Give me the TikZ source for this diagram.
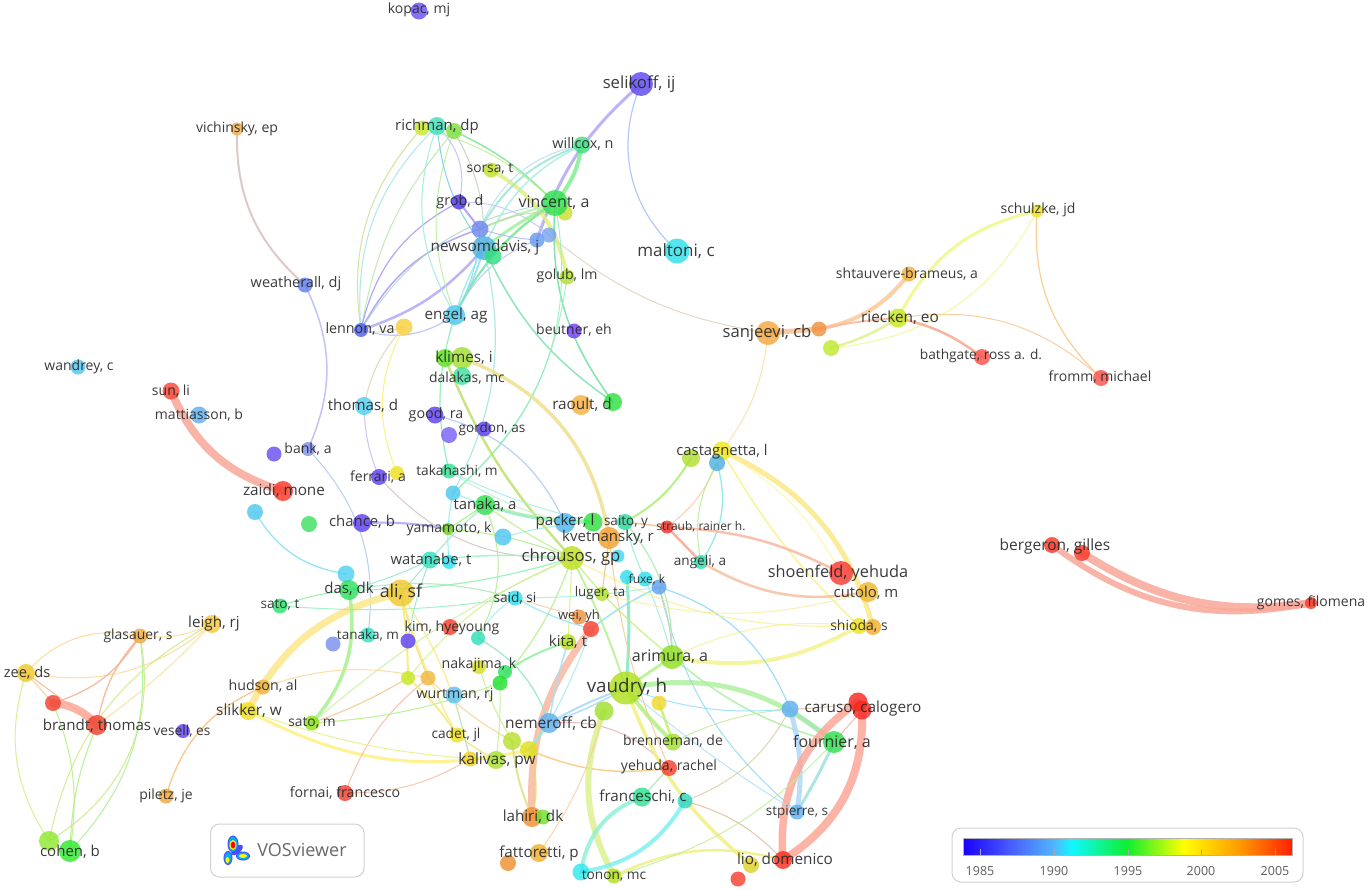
\documentclass[tikz,border=0pt]{standalone}
\usepackage{fontspec}
\setmainfont{Open Sans}
\usetikzlibrary{backgrounds}
\pgfdeclarelayer{bgl}\pgfdeclarelayer{fgl}\pgfsetlayers{bgl,main,fgl}
\definecolor{vA}{HTML}{1A00FF}\definecolor{vB}{HTML}{4A60FF}\definecolor{vC}{HTML}{50B8FF}
\definecolor{vD}{HTML}{10F8FF}\definecolor{vE}{HTML}{10EE30}\definecolor{vF}{HTML}{FFFF00}
\definecolor{vG}{HTML}{FF9A00}\definecolor{vH}{HTML}{FF2000}
\pgfdeclarehorizontalshading{vosbar}{100bp}{color(0bp)=(vA);color(25bp)=(vA);color(32.5bp)=(vB);color(39bp)=(vC);color(41.5bp)=(vD);color(50bp)=(vE);color(58.5bp)=(vF);color(67bp)=(vG);color(75bp)=(vH);color(100bp)=(vH)}
\tikzset{
 auth/.style={circle,inner sep=0pt,outer sep=0pt,draw=none,fill opacity=.82},
 lnk/.style={line cap=round,draw opacity=.85},
 lbl/.style={inner sep=0pt,text=black!85,text opacity=.9},
 panel/.style={draw=black!18,line width=1pt,rounded corners=9pt,fill=white},
}
\newcommand{\au}[5]{\definecolor{nc}{HTML}{#5}\node[auth,minimum size=#4pt,fill=nc] (#1) at (#2,#3) {};}
\newcommand{\lb}[5]{\node[lbl] (l#1) at (#2,#3) {\fontsize{#4}{#4}\selectfont #5};}
\newcommand{\ed}[5]{\definecolor{ec}{HTML}{#1}\draw[lnk,draw=ec,line width=#2pt] (#3.center) to[bend left=#5] (#4.center);}
\begin{document}
\begin{tikzpicture}[x=1pt,y=-1pt]
\useasboundingbox (0,0) rectangle (1367,889);
% ---------- nodes
\au{kopac}{419}{11}{17}{6A50F8}
\au{selikoff}{641}{84}{24}{6048F0}
\au{vich}{237}{129}{13}{F4B050}
\au{rA}{422}{128}{15}{C8E830}
\au{rB}{437}{126}{18}{40E0B8}
\au{rC}{454}{131}{16}{80E040}
\au{willcox}{582}{145}{17}{40E080}
\au{sorsa}{491}{170}{15}{C0E030}
\au{vinB}{565}{213}{15}{C8E030}
\au{vincent}{555}{203}{26}{30E050}
\au{grob}{459}{202}{15}{5038F0}
\au{pA}{480}{229}{17}{7088F0}
\au{newsom}{484}{248}{24}{50B0E0}
\au{nG}{493}{256}{17}{30E080}
\au{bA}{537}{240}{15}{6A9AF0}
\au{bB}{549}{235}{15}{7AA4F0}
\au{golub}{567}{277}{15}{B0E030}
\au{maltoni}{677}{251}{25}{30E0E8}
\au{engel}{455}{315}{20}{50C8F0}
\au{lennon}{361}{330}{14}{5060F0}
\au{yA}{404}{327}{17}{F8D040}
\au{beutner}{574}{331}{15}{7040F0}
\au{weath}{305}{285}{15}{6080F0}
\au{sanjeevi}{768}{333}{24}{F4A840}
\au{shtau}{909}{274}{15}{F4B040}
\au{oA}{819}{329}{15}{F09040}
\au{lA}{831}{348}{16}{C0E830}
\au{riecken}{898}{318}{19}{C8E820}
\au{schulzke}{1037}{211}{13}{F0E020}
\au{bathgate}{982}{357}{16}{F85048}
\au{fromm}{1101}{378}{16}{F85048}
\au{klA}{445}{358}{18}{60E020}
\au{klB}{462}{358}{22}{A0E030}
\au{dalakas}{462}{376}{18}{40E0A0}
\au{raoult}{581}{405}{20}{F8B040}
\au{gA}{613}{402}{18}{30E040}
\au{sunli}{171}{391}{17}{F84838}
\au{matt}{199}{415}{17}{60B0F0}
\au{wandrey}{78}{367}{15}{50C8F0}
\au{thomas}{364}{406}{18}{50D0F0}
\au{good}{435}{415}{17}{6040F0}
\au{pB}{449}{435}{16}{7A60F8}
\au{gordon}{484}{429}{15}{6040F0}
\au{bank}{308}{449}{14}{8090F0}
\au{pC}{274}{454}{15}{6A50F0}
\au{ferrari}{379}{477}{16}{6040F0}
\au{yB}{397}{473}{14}{F0E020}
\au{takah}{449}{471}{15}{30E090}
\au{cA}{453}{493}{15}{50C8F0}
\au{tanakaA}{485}{505}{20}{30E050}
\au{zaidi}{283}{491}{20}{F83828}
\au{cB}{255}{512}{16}{50C8F0}
\au{gB}{309}{524}{16}{40E060}
\au{chance}{362}{523}{18}{6040F0}
\au{yamamoto}{448}{529}{12}{70D020}
\au{cC}{503}{537}{17}{50C8F0}
\au{packer}{565}{523}{20}{50B8F0}
\au{gC}{593}{522}{19}{30E040}
\au{saito}{625}{522}{16}{30D8A0}
\au{kvet}{609}{538}{22}{F0A030}
\au{cD}{618}{556}{13}{40D8F0}
\au{chrousos}{572}{558}{24}{C0E020}
\au{watanabe}{430}{560}{17}{30E0C0}
\au{cE}{449}{562}{14}{30E0F0}
\au{cF}{346}{574}{17}{50D0F0}
\au{das}{349}{590}{20}{30E060}
\au{ali}{401}{593}{27}{F0C830}
\au{satot}{280}{606}{15}{30E070}
\au{said}{515}{598}{15}{30E0F0}
\au{castB}{691}{458}{18}{B0E030}
\au{castA}{722}{451}{19}{F0E820}
\au{castC}{717}{463}{16}{50B0E0}
\au{straub}{667}{527}{13}{F03028}
\au{angeli}{701}{562}{14}{30E0B0}
\au{shoenfeld}{841}{573}{24}{F83830}
\au{cutolo}{868}{592}{20}{F0B830}
\au{shiA}{859}{626}{16}{F0E020}
\au{shiB}{873}{627}{16}{F0B030}
\au{fuA}{627}{577}{14}{30E0F0}
\au{fuB}{645}{579}{15}{30E0F0}
\au{fuC}{659}{587}{15}{60A0F0}
\au{luger}{602}{594}{14}{B0E030}
\au{wei}{579}{617}{15}{F09040}
\au{weiB}{591}{629}{16}{F84030}
\au{kita}{568}{642}{16}{B8E020}
\au{kim}{408}{641}{15}{6040F0}
\au{hye}{450}{627}{16}{F84030}
\au{tanakaM}{368}{635}{15}{30E0C0}
\au{pD}{333}{644}{15}{7A90F0}
\au{tA}{478}{638}{14}{30E0B8}
\au{nak}{479}{667}{14}{D8E020}
\au{nakB}{505}{672}{14}{30E060}
\au{nakC}{500}{683}{15}{20E030}
\au{yC}{408}{678}{14}{C8E820}
\au{oB}{428}{678}{15}{F0B840}
\au{wurtman}{454}{695}{17}{60C0F0}
\au{hudson}{263}{687}{15}{F0B040}
\au{leigh}{212}{624}{18}{F8C840}
\au{glasauer}{140}{636}{15}{F0A840}
\au{zee}{26}{673}{18}{F0C830}
\au{rD}{53}{703}{16}{F04030}
\au{brandt}{97}{725}{20}{F04030}
\au{vesell}{183}{731}{14}{6040F0}
\au{slikker}{248}{711}{18}{F0E020}
\au{satom}{312}{723}{15}{90E020}
\au{piletz}{166}{796}{15}{F0A840}
\au{fornai}{345}{793}{16}{F04030}
\au{coA}{49}{841}{20}{90E830}
\au{cohen}{70}{851}{22}{30E830}
\au{cadet}{457}{735}{15}{F0E020}
\au{kalA}{470}{759}{15}{F0D020}
\au{kalivas}{496}{760}{18}{A8E030}
\au{nemeroff}{549}{723}{20}{60B0F0}
\au{yD}{512}{741}{18}{B8E030}
\au{yE}{529}{750}{18}{E0E020}
\au{vaudry}{626}{688}{33}{B0E020}
\au{lB}{604}{711}{19}{A0E030}
\au{yF}{659}{703}{15}{F0D830}
\au{arimura}{672}{657}{24}{90E020}
\au{brenneman}{673}{742}{17}{A0E030}
\au{yehuda}{669}{768}{16}{F84030}
\au{franc}{642}{797}{19}{30E090}
\au{frB}{685}{801}{15}{30D8C0}
\au{lahiri}{532}{817}{20}{F09030}
\au{laB}{543}{817}{15}{70E030}
\au{fatt}{539}{853}{18}{F0B030}
\au{faB}{508}{863}{16}{F09030}
\au{toA}{581}{872}{17}{30E8F0}
\au{tonon}{614}{876}{15}{B0E020}
\au{lio}{783}{860}{18}{F83020}
\au{lioB}{751}{865}{16}{E0D030}
\au{rE}{738}{879}{15}{F84030}
\au{stpierre}{797}{812}{15}{60B0F0}
\au{fournier}{834}{742}{22}{30E050}
\au{caA}{858}{702}{19}{F82820}
\au{caruso}{862}{710}{19}{F82820}
\au{blC}{790}{709}{17}{60B0F0}
\au{berA}{1052}{545}{16}{F83828}
\au{berB}{1082}{553}{16}{F83828}
\au{gomes}{1311}{603}{12}{F83828}
% ---------- connectors
\begin{pgfonlayer}{bgl}
\fill[white] (0,0) rectangle (1367,889);
\ed{B0A8F8}{3}{selikoff}{bA}{-15}
\ed{A8C0F4}{1.2}{selikoff}{maltoni}{-35}
\ed{C8E090}{1}{lennon}{rA}{25}
\ed{A0E4E8}{1}{lennon}{rB}{25}
\ed{B8E4A8}{1}{lennon}{rC}{15}
\ed{A898F8}{1.2}{lennon}{grob}{25}
\ed{A898F8}{1.5}{lennon}{pA}{22}
\ed{B0A8F8}{2.5}{lennon}{newsom}{-15}
\ed{B8C0F8}{1.2}{lennon}{engel}{-25}
\ed{A8D8C8}{1}{lennon}{vincent}{25}
\ed{E8D8A0}{1}{lennon}{yA}{-15}
\ed{B8C0F8}{1}{engel}{bA}{20}
\ed{98EAE4}{1}{engel}{rB}{25}
\ed{B8EE98}{1}{engel}{rC}{20}
\ed{70CCE8}{1}{newsom}{rB}{15}
\ed{B8D4B8}{1}{newsom}{rC}{-15}
\ed{B8BCF8}{1}{grob}{rB}{-30}
\ed{A898F8}{2}{grob}{pA}{0}
\ed{C0C4F8}{1}{grob}{bB}{20}
\ed{80E490}{1.5}{rC}{vincent}{10}
\ed{C0F090}{1}{rA}{vincent}{14}
\ed{E0F080}{4}{sorsa}{golub}{25}
\ed{80F090}{4}{willcox}{vincent}{15}
\ed{98E8D0}{2}{willcox}{pA}{-20}
\ed{A8ECE0}{1.5}{willcox}{newsom}{-20}
\ed{B8DCF0}{1}{willcox}{pA}{-28}
\ed{A0F0A0}{3}{vincent}{newsom}{-5}
\ed{B0F0B0}{2}{vincent}{pA}{-3}
\ed{80EE90}{2.5}{vincent}{nG}{-8}
\ed{90E8A0}{1.5}{vincent}{engel}{-15}
\ed{B0B8F8}{1}{pA}{bA}{-6}
\ed{C0D8A0}{1}{pA}{vinB}{15}
\ed{90E0E8}{2}{newsom}{engel}{6}
\ed{A0E8F0}{1.5}{newsom}{engel}{-6}
\ed{80E8B0}{2}{nG}{engel}{-6}
\ed{80D8F0}{1}{pA}{engel}{12}
\ed{80E0B0}{1.5}{newsom}{gA}{-15}
\ed{70E0A0}{1.5}{vincent}{gA}{-20}
\ed{98F0C0}{1}{vincent}{cA}{30}
\ed{90F0B8}{1}{golub}{cA}{20}
\ed{80EEB0}{1.2}{engel}{takah}{-15}
\ed{A0E8E0}{1.2}{newsom}{cA}{20}
\ed{EEE090}{3.5}{klB}{kvet}{30}
\ed{C0E070}{2.5}{klA}{chrousos}{-10}
\ed{B0C8F8}{1.2}{good}{packer}{25}
\ed{E0D0B0}{1}{yA}{thomas}{-15}
\ed{C8B8F0}{1}{thomas}{ferrari}{-10}
\ed{D0C0C0}{1}{ferrari}{chrousos}{-25}
\ed{F8F070}{1}{yA}{yB}{-25}
\ed{B8B8F8}{1.5}{weath}{bank}{25}
\ed{D8C0C0}{2}{vich}{weath}{-25}
\ed{A8C8F0}{1}{bank}{tanakaM}{25}
\ed{80E0F8}{1.3}{cB}{cF}{-25}
\ed{F8A898}{8}{sunli}{zaidi}{-25}
\ed{B0A8F0}{2.2}{chance}{yamamoto}{6}
\ed{90E8D0}{1}{das}{watanabe}{-5}
\ed{80F0A0}{1}{satot}{das}{6}
\ed{FCE88C}{7}{ali}{slikker}{-25}
\ed{A8F090}{3.5}{das}{satom}{25}
\ed{90E8D0}{1}{ali}{watanabe}{0}
\ed{B0E8C0}{1.2}{das}{said}{12}
\ed{90F0C0}{1}{satot}{said}{-6}
\ed{F8E870}{2}{ali}{yC}{4}
\ed{F8E070}{1.5}{ali}{oB}{-4}
\ed{F8EC80}{1.5}{ali}{cadet}{-6}
\ed{F8E880}{1.2}{ali}{kalA}{10}
\ed{FFF080}{3}{slikker}{yE}{-20}
\ed{F8C078}{1.3}{piletz}{hudson}{25}
\ed{FDD890}{1}{hudson}{oB}{15}
\ed{F8B8A0}{1}{fornai}{oB}{15}
\ed{F8C0A0}{1}{fornai}{kalA}{-15}
\ed{F8D090}{1}{oB}{yE}{-8}
\ed{F8C880}{1.5}{yE}{yehuda}{-15}
\ed{E8B0B0}{1}{nemeroff}{yehuda}{25}
\ed{F8B8A0}{7}{weiB}{lahiri}{-20}
\ed{F0D080}{2}{yE}{lahiri}{15}
\ed{E0E080}{2}{yD}{lahiri}{-8}
\ed{A0E8D0}{3}{nemeroff}{yE}{0}
\ed{DCF090}{6}{lB}{tonon}{-25}
\ed{F0F080}{3.5}{vaudry}{lioB}{-15}
\ed{B0F080}{4}{vaudry}{brenneman}{-5}
\ed{C8F060}{2.5}{yF}{brenneman}{0}
\ed{B0F0A0}{5}{vaudry}{fournier}{25}
\ed{F4F490}{4}{arimura}{shiA}{-20}
\ed{A8F0A0}{1.5}{arimura}{fournier}{-12}
\ed{B8F090}{3}{vaudry}{arimura}{0}
\ed{FCE888}{5}{castA}{shiB}{25}
\ed{F8F070}{1.2}{castA}{shiA}{-8}
\ed{F8F8A0}{1}{castA}{shoenfeld}{15}
\ed{A8F070}{2}{castB}{saito}{15}
\ed{F8C8A0}{1}{castC}{straub}{15}
\ed{80E8E8}{1.3}{castC}{angeli}{25}
\ed{B0F090}{1}{castC}{angeli}{-20}
\ed{F8A890}{2.5}{straub}{angeli}{0}
\ed{F8B8A0}{2.5}{straub}{shoenfeld}{12}
\ed{F8C0A0}{2.5}{angeli}{cutolo}{-20}
\ed{F8C090}{1.5}{saito}{straub}{0}
\ed{A0F0A0}{3.5}{tanakaA}{gC}{-8}
\ed{90D8F8}{1.2}{fuC}{blC}{25}
\ed{90D8F8}{1}{fuC}{stpierre}{-18}
\ed{C0C8C0}{1}{fuC}{arimura}{8}
\ed{A0E8E0}{1}{fuB}{arimura}{4}
\ed{90E0F8}{1.5}{fuC}{weiB}{-6}
\ed{A8D8F8}{2}{nemeroff}{vaudry}{5}
\ed{A8D8F8}{1.5}{nemeroff}{vaudry}{-5}
\ed{80E8C0}{3}{fuA}{vaudry}{4}
\ed{B0D8F8}{5}{stpierre}{blC}{-12}
\ed{A0E0E0}{3}{stpierre}{fournier}{-3}
\ed{A8E8B8}{4}{blC}{fournier}{0}
\ed{FCA898}{7.5}{lio}{caA}{30}
\ed{FCA898}{8}{lio}{caruso}{-30}
\ed{E8C0A0}{1}{blC}{caA}{-5}
\ed{F8B0A0}{1}{caruso}{fournier}{0}
\ed{90F0D8}{4}{franc}{toA}{-30}
\ed{80F0F0}{4}{frB}{toA}{25}
\ed{F0F080}{2.5}{tonon}{lio}{20}
\ed{90E8A0}{1}{franc}{yehuda}{0}
\ed{D8D0A0}{1}{frB}{blC}{-20}
\ed{E0B8A0}{1}{frB}{lio}{15}
\ed{C0F090}{1}{tonon}{fournier}{-15}
\ed{C8E8A0}{1}{brenneman}{blC}{10}
\ed{F8D0A0}{1}{fatt}{lB}{-10}
\ed{A0E0F8}{1.5}{nemeroff}{kita}{4}
\ed{B0E8F8}{1.2}{nemeroff}{weiB}{-4}
\ed{90E0F8}{1}{blC}{vaudry}{12}
\ed{B0E0F8}{1}{vaudry}{stpierre}{-4}
\ed{F0F888}{3}{riecken}{schulzke}{25}
\ed{E0F090}{2.5}{lA}{riecken}{-8}
\ed{F0F890}{1}{lA}{schulzke}{-28}
\ed{F8C090}{5}{sanjeevi}{oA}{0}
\ed{FCC898}{4}{oA}{shtau}{-20}
\ed{F8B8A0}{2}{oA}{riecken}{4}
\ed{F8A890}{2.5}{riecken}{bathgate}{12}
\ed{F8C890}{1}{riecken}{fromm}{25}
\ed{F8C880}{1.2}{schulzke}{fromm}{-25}
\ed{FDE0A0}{1}{sanjeevi}{castA}{15}
\ed{E0D0C0}{1}{bB}{sanjeevi}{-15}
\ed{F8A898}{6}{berA}{gomes}{-24}
\ed{F8A898}{8}{berB}{gomes}{-20}
\ed{FDD890}{1}{zee}{glasauer}{30}
\ed{FDD890}{1}{zee}{leigh}{-25}
\ed{F8C890}{1}{zee}{rD}{0}
\ed{F8B090}{1}{zee}{brandt}{0}
\ed{FCA898}{8}{rD}{brandt}{20}
\ed{F8B090}{1.3}{rD}{glasauer}{-20}
\ed{F8B090}{1.3}{brandt}{glasauer}{15}
\ed{FDDC90}{1}{glasauer}{leigh}{-15}
\ed{F8E090}{1}{brandt}{leigh}{-5}
\ed{D0F080}{1}{zee}{coA}{-25}
\ed{B0F080}{1}{rD}{cohen}{15}
\ed{D0E880}{1}{coA}{leigh}{25}
\ed{A8F080}{1}{cohen}{brandt}{10}
\ed{C8E880}{1}{coA}{glasauer}{-35}
\ed{A8F090}{1}{cohen}{glasauer}{-25}
\ed{F8C080}{1}{satom}{yC}{-5}
\ed{B0F080}{1}{satom}{nakC}{-8}
\ed{C8F0A0}{1}{satom}{chrousos}{8}
\ed{90F0A0}{2}{nakB}{kita}{8}
\ed{B8F090}{1.3}{nakC}{chrousos}{-10}
\ed{A0F0C0}{1.5}{chrousos}{watanabe}{-5}
\ed{90F0B0}{1.2}{das}{chrousos}{-8}
\ed{C0F090}{1.2}{chrousos}{tanakaA}{4}
\ed{90F070}{1}{tanakaA}{yamamoto}{0}
\ed{90E8C8}{1}{watanabe}{tanakaA}{4}
\ed{A0ECE8}{1}{said}{tA}{-15}
\ed{B0E880}{1}{chrousos}{yamamoto}{-8}
\ed{B8F090}{2}{chrousos}{vaudry}{4}
\ed{C0F080}{1.3}{chrousos}{arimura}{-6}
\ed{D0F080}{1}{chrousos}{kita}{0}
\ed{D0F090}{1}{chrousos}{yC}{-14}
\ed{F8F090}{1}{chrousos}{shiA}{-15}
\ed{F8F0A0}{1}{luger}{cutolo}{-15}
\ed{F8F090}{1}{arimura}{shiA}{15}
\ed{A8F0A8}{1.3}{saito}{arimura}{20}
\ed{90ECD0}{1}{saito}{fuB}{-5}
\ed{90E8F0}{1}{packer}{tanakaA}{6}
\ed{98F0E0}{1}{cC}{gC}{5}
\ed{80ECF0}{1}{cE}{cA}{8}
\ed{F8C890}{1}{kvet}{yehuda}{-8}
\ed{F0C880}{1.2}{kvet}{luger}{0}
\ed{90E8C8}{1.3}{tA}{nemeroff}{20}
\ed{A8F080}{1}{tanakaA}{tA}{25}
\ed{90E8C8}{1}{watanabe}{kim}{-6}
\ed{B8F0D0}{1}{takah}{packer}{-8}
\ed{A0F0E0}{1}{takah}{gC}{-6}
\ed{90E8F0}{1}{cA}{tanakaA}{0}
\ed{A0ECF0}{1}{said}{fuC}{-4}
\ed{F8C8A8}{1}{said}{wei}{0}
\ed{90E8F8}{1.2}{said}{weiB}{-6}
\ed{F8E080}{1}{cadet}{yC}{-6}
\ed{F8EC80}{1.5}{yC}{cadet}{8}
\ed{F4E480}{1.5}{cadet}{kalivas}{-4}
\ed{E8F080}{1}{slikker}{kalivas}{-8}
\ed{A8E8E8}{1}{wurtman}{kalA}{0}
\ed{C0F090}{1}{kalivas}{nakC}{-4}
\ed{C8F080}{1}{yD}{nak}{6}
\end{pgfonlayer}
% ---------- labels
\begin{pgfonlayer}{fgl}
\lb{kopac}{419}{10}{14}{kopac, mj}
\lb{selikoff}{639}{84}{16.7}{selikoff, ij}
\lb{vich}{237}{129}{14}{vichinsky, ep}
\lb{rich}{437}{127}{15}{richman, dp}
\lb{willcox}{583}{144}{14.4}{willcox, n}
\lb{sorsa}{490}{169}{13.8}{sorsa, t}
\lb{vincent}{554}{203}{16}{vincent, a}
\lb{grob}{460}{202}{14.4}{grob, d}
\lb{newsom}{485}{248}{15.3}{newsomdavis, j}
\lb{golub}{567}{276}{14.1}{golub, lm}
\lb{maltoni}{676}{251}{17}{maltoni, c}
\lb{engel}{456}{316}{15.2}{engel, ag}
\lb{lennon}{360}{329}{14.3}{lennon, va}
\lb{beutner}{574}{330}{14}{beutner, eh}
\lb{weath}{296}{284}{14.5}{weatherall, dj}
\lb{sanjeevi}{767}{333}{16.6}{sanjeevi, cb}
\lb{shtau}{907}{274}{14}{shtauvere-brameus, a}
\lb{riecken}{900}{318}{15.4}{riecken, eo}
\lb{schulzke}{1038}{210}{14}{schulzke, jd}
\lb{bathgate}{981}{356}{13.7}{bathgate, ross a. d.}
\lb{fromm}{1100}{377}{14}{fromm, michael}
\lb{klimes}{464}{358}{15.3}{klimes, i}
\lb{dalakas}{467}{378}{13.9}{dalakas, mc}
\lb{raoult}{582}{405}{15.3}{raoult, d}
\lb{sunli}{171}{391}{14}{sun, li}
\lb{matt}{199}{415}{14}{mattiasson, b}
\lb{wandrey}{79}{367}{14}{wandrey, c}
\lb{thomas}{363}{406}{15.1}{thomas, d}
\lb{good}{436}{415}{14.3}{good, ra}
\lb{gordon}{492}{429}{13.6}{gordon, as}
\lb{bank}{308}{449}{14}{bank, a}
\lb{ferrari}{378}{477}{14}{ferrari, a}
\lb{takah}{457}{471}{13.7}{takahashi, m}
\lb{tanakaA}{485}{505}{14.9}{tanaka, a}
\lb{zaidi}{284}{491}{15.3}{zaidi, mone}
\lb{chance}{362}{522}{14.9}{chance, b}
\lb{yamamoto}{449}{529}{14}{yamamoto, k}
\lb{packer}{565}{522}{15.2}{packer, l}
\lb{saito}{626}{522}{13.5}{saito, y}
\lb{kvet}{608}{538}{15}{kvetnansky, r}
\lb{chrousos}{571}{557}{16.7}{chrousos, gp}
\lb{watanabe}{431}{560}{14.8}{watanabe, t}
\lb{das}{349}{589}{15}{das, dk}
\lb{ali}{401}{592}{17.8}{ali, sf}
\lb{satot}{280}{605}{13.6}{sato, t}
\lb{said}{515}{598}{13.7}{said, si}
\lb{cast}{722}{452}{14.8}{castagnetta, l}
\lb{straub}{701}{527}{12}{straub, rainer h.}
\lb{angeli}{700}{562}{13.6}{angeli, a}
\lb{shoenfeld}{838}{573}{16.3}{shoenfeld, yehuda}
\lb{cutolo}{866}{593}{14.9}{cutolo, m}
\lb{shioda}{859}{626}{14}{shioda, s}
\lb{fuxe}{647}{580}{12}{fuxe, k}
\lb{luger}{600}{593}{13.3}{luger, ta}
\lb{wei}{579}{616}{13}{wei, yh}
\lb{kita}{568}{642}{15}{kita, t}
\lb{kim}{452}{628}{14}{kim, hyeyoung}
\lb{tanakaM}{368}{635}{13.5}{tanaka, m}
\lb{nak}{479}{665}{14.2}{nakajima, k}
\lb{wurtman}{455}{695}{14.2}{wurtman, rj}
\lb{hudson}{263}{686}{14.2}{hudson, al}
\lb{leigh}{214}{624}{15.2}{leigh, rj}
\lb{glasauer}{138}{636}{13.9}{glasauer, s}
\lb{zee}{27}{673}{14.6}{zee, ds}
\lb{brandt}{97}{726}{15.1}{brandt, thomas}
\lb{vesell}{182}{731}{13.7}{vesell, es}
\lb{slikker}{249}{711}{15.4}{slikker, w}
\lb{satom}{312}{723}{13.8}{sato, m}
\lb{piletz}{166}{796}{14}{piletz, je}
\lb{fornai}{345}{793}{14.2}{fornai, francesco}
\lb{cohen}{70}{852}{15}{cohen, b}
\lb{cadet}{456}{735}{13.7}{cadet, jl}
\lb{kalivas}{497}{760}{15.5}{kalivas, pw}
\lb{nemeroff}{551}{724}{15.5}{nemeroff, cb}
\lb{vaudry}{627}{688}{18.8}{vaudry, h}
\lb{arimura}{670}{657}{16}{arimura, a}
\lb{brenneman}{673}{741}{14}{brenneman, de}
\lb{yehuda}{669}{767}{14.1}{yehuda, rachel}
\lb{franc}{643}{797}{15.2}{franceschi, c}
\lb{lahiri}{533}{817}{15.2}{lahiri, dk}
\lb{fatt}{539}{853}{15.2}{fattoretti, p}
\lb{tonon}{614}{876}{13.7}{tonon, mc}
\lb{lio}{785}{860}{15.3}{lio, domenico}
\lb{stpierre}{797}{812}{13.5}{stpierre, s}
\lb{fournier}{832}{742}{16}{fournier, a}
\lb{caruso}{863}{709}{15.3}{caruso, calogero}
\lb{bergeron}{1055}{546}{15.5}{bergeron, gilles}
\lb{gomes}{1311}{603}{14}{gomes, filomena}
\end{pgfonlayer}
% ---------- logo
\draw[panel] (210.5,824) rectangle (364,877);
\fill[blue!70] (233,844) ellipse (5.5 and 8.5);
\fill[blue!70] (228,858) ellipse (4.5 and 7);
\fill[blue!70] (243,856) ellipse (7 and 4.5);
\fill[blue!70,rotate around={40:(237,850)}] (237,850) ellipse (7 and 3.5);
\fill[cyan] (233,844) ellipse (4.5 and 7.5);
\fill[cyan] (228,858) ellipse (3.5 and 6);
\fill[cyan] (243,856) ellipse (6 and 3.5);
\fill[yellow] (233,845) ellipse (3.5 and 5);
\fill[yellow] (227.5,860) ellipse (2 and 3);
\fill[yellow] (243,856) ellipse (4 and 2);
\fill[red] (233,845) ellipse (2.2 and 3.5);
\node[lbl,text=black!65] (logotext) at (302,850) {\fontsize{18}{18}\selectfont VOSviewer};
% ---------- legend
\draw[panel] (952,828) rectangle (1303,882);
\shade[shading=vosbar,draw=black!30,line width=.6pt] (963,838) rectangle (1292,855);
\foreach \tx/\yr in {980/1985,1054/1990,1128/1995,1201/2000,1275/2005}{
 \draw[black!35,line width=1pt] (\tx,849) -- (\tx,855);
 \node[lbl,text=black!70] (yr\yr) at (\tx,871) {\fontsize{12.5}{12.5}\selectfont \yr};
}
\end{tikzpicture}
\end{document}
